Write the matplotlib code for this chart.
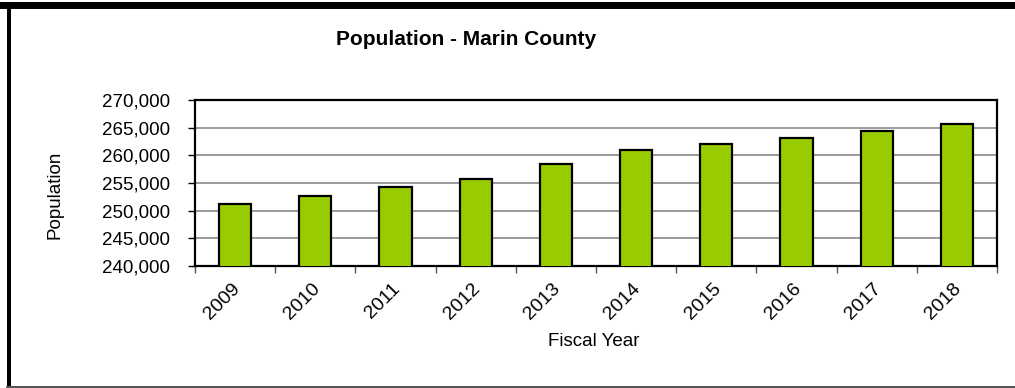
import matplotlib
matplotlib.use("Agg")
import matplotlib.pyplot as plt
from matplotlib.patches import Rectangle
from matplotlib.lines import Line2D
from matplotlib.ticker import FuncFormatter, FixedLocator
from matplotlib.transforms import ScaledTranslation
import numpy as np

# Marin County population by fiscal year
years = ["2009", "2010", "2011", "2012", "2013", "2014", "2015", "2016", "2017", "2018"]
population = [251150, 252600, 254280, 255660, 258490, 260910, 262050, 263130, 264400, 265720]
y_ticks = [240000, 245000, 250000, 255000, 260000, 265000, 270000]

W, H = 1015, 388
plt.rcParams['font.family'] = ['Liberation Sans', 'DejaVu Sans']

fig = plt.figure(figsize=(W / 100, H / 100), dpi=100)
fig.patch.set_facecolor("white")


def px(x0, y0, x1, y1):
    # pixel box -> figure fraction rect
    return [x0 / W, 1 - y1 / H, (x1 - x0) / W, (y1 - y0) / H]


ax = fig.add_axes(px(195, 100, 997, 266))

x = np.arange(len(years))
ax.bar(x, population, width=0.4, color="#99CC00", edgecolor="black", linewidth=1.6, zorder=3)

ax.set_xlim(-0.5, len(years) - 0.5)
ax.set_ylim(y_ticks[0], y_ticks[-1])
ax.set_yticks(y_ticks)
ax.yaxis.set_major_formatter(FuncFormatter(lambda v, p: f"{int(v):,}"))
ax.tick_params(axis="y", direction="out", length=5, width=1, pad=13, labelsize=13.5)

# labels at category centres, tick marks at the boundaries
ax.set_xticks(x)
ax.set_xticklabels(years, rotation=45, ha="right", rotation_mode="anchor")
ax.tick_params(axis="x", which="major", length=0, pad=10, labelsize=14)
ax.xaxis.set_minor_locator(FixedLocator(np.arange(len(years) + 1) - 0.5))
ax.tick_params(axis="x", which="minor", direction="out", length=5, width=1, color="#555555")
nudge = ScaledTranslation(-4 / 100, 0, fig.dpi_scale_trans)
for lbl in ax.get_xticklabels():
    lbl.set_transform(lbl.get_transform() + nudge)

ax.grid(axis="y", color="#808080", linewidth=1.1, zorder=0)
ax.set_axisbelow(True)
for sp in ax.spines.values():
    sp.set_linewidth(1.6)
    sp.set_color("black")

fig.text(466 / W, 1 - 45 / H, "Population - Marin County", ha="center", va="baseline",
         fontsize=15, fontweight="bold")
fig.text(55 / W, 1 - 194.5 / H, "Population", rotation=90, ha="center", va="center", fontsize=13.5)
fig.text(594 / W, 1 - 341 / H, "Fiscal Year", ha="center", va="center", fontsize=13.5)

# frame around the chart
fig.add_artist(Rectangle((0, 1 - 9 / H), 1, 7 / H, transform=fig.transFigure,
                         facecolor="black", edgecolor="none"))
fig.add_artist(Rectangle((7 / W, 1 - 386 / H), 4 / W, 377 / H, transform=fig.transFigure,
                         facecolor="black", edgecolor="none"))
fig.add_artist(Line2D([7 / W, 1], [1 - 386.5 / H, 1 - 386.5 / H], transform=fig.transFigure,
                      color="#333333", linewidth=1.2))

fig.savefig("out.png", dpi=100)
